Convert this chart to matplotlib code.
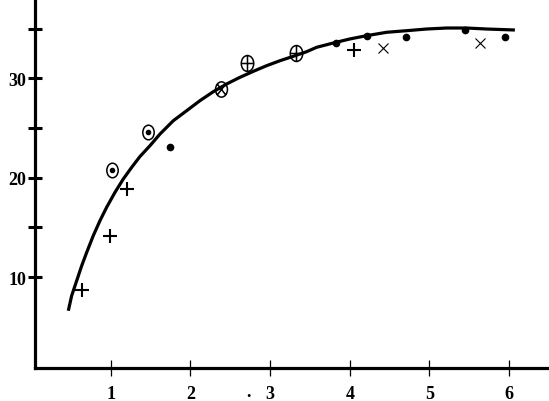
import numpy as np
import matplotlib.pyplot as plt
from matplotlib.path import Path
from matplotlib.transforms import Affine2D

# points, grouped by symbol
plus_x = [0.64, 0.99, 1.20, 4.05]
plus_y = [8.65, 14.15, 18.9, 32.8]
odot_x = [1.01, 1.47]
odot_y = [20.8, 24.6]
otimes_x = [2.39]
otimes_y = [28.9]
oplus_x = [2.71, 3.33]
oplus_y = [31.55, 32.55]
dot_x = [1.75, 3.83, 4.21, 4.70, 5.44, 5.95]
dot_y = [23.05, 33.6, 34.3, 34.15, 34.85, 34.15]
cross_x = [4.42, 5.63]
cross_y = [33.05, 33.6]

# fitted curve
curve_x = [0.468, 0.510, 0.573, 0.636, 0.699, 0.781, 0.865, 0.949, 1.054,
           1.158, 1.263, 1.367, 1.493, 1.618, 1.785, 1.953, 2.120, 2.287,
           2.455, 2.622, 2.789, 2.957, 3.124, 3.290, 3.459, 3.584, 3.792,
           4.002, 4.211, 4.462, 4.713, 4.964, 5.215, 5.466, 5.717, 5.968,
           6.072]
curve_y = [6.61, 8.12, 9.63, 11.14, 12.49, 14.16, 15.67, 17.02, 18.53,
           19.87, 21.04, 22.13, 23.22, 24.39, 25.73, 26.74, 27.75, 28.65,
           29.43, 30.10, 30.70, 31.27, 31.77, 32.21, 32.68, 33.12, 33.55,
           33.96, 34.29, 34.63, 34.79, 34.96, 35.06, 35.06, 34.96, 34.89,
           34.86]

xticks = [1, 2, 3, 4, 5, 6]
yticks = [10, 15, 20, 25, 30, 35]
ylabels = ['10', '', '20', '', '30', '']

# ellipse based marker shapes
ell = Path.unit_circle().transformed(Affine2D().scale(0.78, 1.0))
vbar = Path([(0, -1), (0, 1)], [Path.MOVETO, Path.LINETO])
hbar = Path([(-0.78, 0), (0.78, 0)], [Path.MOVETO, Path.LINETO])
d1 = Path([(-0.55, -0.7), (0.55, 0.7)], [Path.MOVETO, Path.LINETO])
d2 = Path([(-0.55, 0.7), (0.55, -0.7)], [Path.MOVETO, Path.LINETO])
oplus_m = Path.make_compound_path(ell, vbar, hbar)
otimes_m = Path.make_compound_path(ell, d1, d2)

plt.rcParams['font.family'] = 'Liberation Serif'
plt.rcParams['font.weight'] = 'bold'

fig = plt.figure(figsize=(5.49, 4.02), dpi=100)
ax = fig.add_axes([35/549, 33/402, 514/549, 369/402])
ax.set_xlim(0.05, 6.5)
ax.set_ylim(0.85, 37.98)

ax.plot(curve_x, curve_y, color='black', lw=2.3, solid_capstyle='butt',
        solid_joinstyle='round')

ax.plot(plus_x, plus_y, ls='none', marker='+', ms=10.5, mew=1.5, color='black')
ax.plot(cross_x, cross_y, ls='none', marker='x', ms=7, mew=0.8, color='black')
ax.plot(dot_x, dot_y, ls='none', marker='o', ms=4.5, color='black')
ax.plot(odot_x, odot_y, ls='none', marker=ell, ms=10.5, mew=1.1,
        mfc='none', mec='black')
ax.plot(odot_x, odot_y, ls='none', marker='o', ms=3, color='black')
ax.plot(otimes_x, otimes_y, ls='none', marker=otimes_m, ms=11, mew=1.1,
        mfc='none', mec='black')
ax.plot(oplus_x, oplus_y, ls='none', marker=oplus_m, ms=11.5, mew=1.1,
        mfc='none', mec='black')

for s in ['top', 'right']:
    ax.spines[s].set_visible(False)
for s in ['left', 'bottom']:
    ax.spines[s].set_linewidth(2.3)

ax.set_xticks(xticks)
ax.set_yticks(yticks, labels=ylabels)
ax.tick_params(axis='x', direction='inout', length=11, width=0.9, pad=7,
               labelsize=13)
ax.tick_params(axis='y', direction='inout', length=10, width=2.2, pad=1.5,
               labelsize=13)

# stray dot under the axis
fig.text(248/549, 0.003, '.', ha='center', va='bottom', fontsize=13)

fig.savefig('out.png', dpi=100)
